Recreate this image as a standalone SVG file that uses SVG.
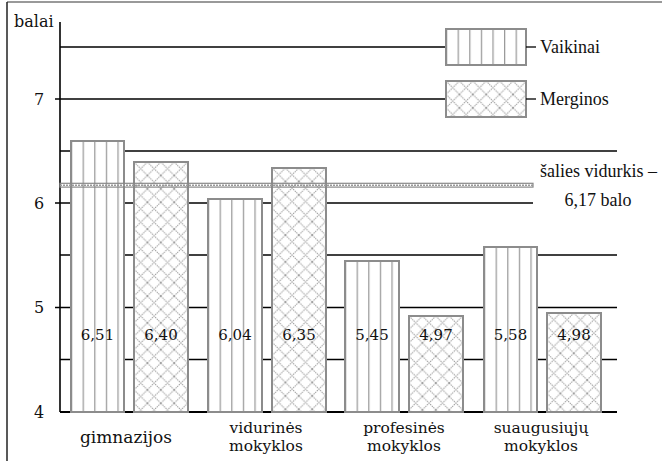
<svg xmlns="http://www.w3.org/2000/svg" width="662" height="461" viewBox="0 0 662 461">
<style>
.grid{stroke:#000;stroke-width:1.3;fill:none}
.ax{stroke:#000;stroke-width:1.6;fill:none}
.bar{stroke:#8c8c8c;stroke-width:2}
.v{fill:url(#stripes)}
.m{fill:url(#hatch)}
</style>
<defs>
<pattern id="stripes" patternUnits="userSpaceOnUse" x="0" y="0" width="11.6" height="10">
<rect width="11.6" height="10" fill="#fff"/>
<line x1="0.6" y1="0" x2="0.6" y2="10" stroke="#9a9a9a" stroke-width="1.3"/>
</pattern>
<pattern id="hatch" patternUnits="userSpaceOnUse" x="0" y="0" width="13.4" height="13.4">
<rect width="13.4" height="13.4" fill="#fff"/>
<path d="M0 0L13.4 13.4M13.4 0L0 13.4" stroke="#9a9a9a" stroke-width="1" stroke-dasharray="1.4 0.8"/>
</pattern>
</defs>

<g id="frame">
<line x1="7" y1="2" x2="662" y2="2" stroke="#777" stroke-width="1.6"/>
<line x1="7" y1="2" x2="7" y2="461" stroke="#222" stroke-width="1.5"/>
</g>

<g id="grid">
<line class="grid" x1="60" y1="47" x2="446" y2="47"/>
<line class="grid" x1="55" y1="99" x2="446" y2="99"/>
<line class="grid" x1="60" y1="151" x2="617" y2="151"/>
<line class="grid" x1="55" y1="203" x2="533" y2="203"/>
<line class="grid" x1="60" y1="255" x2="617" y2="255"/>
<line class="grid" x1="55" y1="307.5" x2="617" y2="307.5"/>
<line class="grid" x1="60" y1="359.5" x2="617" y2="359.5"/>
</g>

<g id="axis" font-family="DejaVu Serif, Liberation Serif, serif" font-size="16" fill="#111">
<line class="ax" x1="60" y1="22" x2="60" y2="412"/>
<line x1="60" y1="412" x2="617" y2="412" stroke="#000" stroke-width="2"/>
<text x="14" y="27">balai</text>
<text x="39" y="105" text-anchor="middle">7</text>
<text x="39" y="209" text-anchor="middle">6</text>
<text x="39" y="313" text-anchor="middle">5</text>
<text x="39" y="418" text-anchor="middle">4</text>
</g>

<g id="legend" font-family="Liberation Serif, Times New Roman, serif" font-size="18" fill="#111">
<rect class="bar v" x="0" y="0" width="80" height="36" transform="translate(446,29)"/>
<line class="grid" x1="526" y1="47" x2="536" y2="47"/>
<text x="540" y="53">Vaikinai</text>
<rect class="bar m" x="0" y="0" width="80" height="36" transform="translate(446,81)"/>
<line class="grid" x1="526" y1="99" x2="536" y2="99"/>
<text x="540" y="105">Merginos</text>
</g>

<g id="gimnazijos" font-family="DejaVu Serif, Liberation Serif, serif" font-size="15" fill="#111" text-anchor="middle">
<rect class="bar v" x="0" y="0" width="53" height="271" transform="translate(71,141)"/>
<rect class="bar m" x="0" y="0" width="54" height="250" transform="translate(134,162)"/>
<text x="97.5" y="340">6,51</text>
<text x="161" y="340">6,40</text>
<text x="126" y="443" font-size="17">gimnazijos</text>
</g>

<g id="vidurines" font-family="DejaVu Serif, Liberation Serif, serif" font-size="15" fill="#111" text-anchor="middle">
<rect class="bar v" x="0" y="0" width="54" height="213" transform="translate(208,199)"/>
<rect class="bar m" x="0" y="0" width="54" height="244" transform="translate(272,168)"/>
<text x="235" y="340">6,04</text>
<text x="299" y="340">6,35</text>
<text x="266" y="433" font-size="15.5">vidurinės</text>
<text x="266" y="451" font-size="15.5">mokyklos</text>
</g>

<g id="profesines" font-family="DejaVu Serif, Liberation Serif, serif" font-size="15" fill="#111" text-anchor="middle">
<rect class="bar v" x="0" y="0" width="54" height="151" transform="translate(345,261)"/>
<rect class="bar m" x="0" y="0" width="54" height="96" transform="translate(409,316)"/>
<text x="372" y="340">5,45</text>
<text x="436" y="340">4,97</text>
<text x="404" y="433" font-size="15.5">profesinės</text>
<text x="404" y="451" font-size="15.5">mokyklos</text>
</g>

<g id="suaugusiuju" font-family="DejaVu Serif, Liberation Serif, serif" font-size="15" fill="#111" text-anchor="middle">
<rect class="bar v" x="0" y="0" width="53" height="165" transform="translate(484,247)"/>
<rect class="bar m" x="0" y="0" width="54" height="99" transform="translate(547,313)"/>
<text x="510.5" y="340">5,58</text>
<text x="574" y="340">4,98</text>
<text x="541" y="433" font-size="15.5">suaugusiųjų</text>
<text x="541" y="451" font-size="15.5">mokyklos</text>
</g>

<g id="average" font-family="Liberation Serif, Times New Roman, serif" font-size="18" fill="#111">
<rect x="60" y="183.3" width="473" height="3.8" fill="none" stroke="#888" stroke-width="1.2"/>
<line x1="60" y1="185.2" x2="533" y2="185.2" stroke="#999" stroke-width="1.6" stroke-dasharray="2 1"/>
<text x="540" y="177">šalies vidurkis –</text>
<text x="598" y="206" text-anchor="middle">6,17 balo</text>
</g>
</svg>
